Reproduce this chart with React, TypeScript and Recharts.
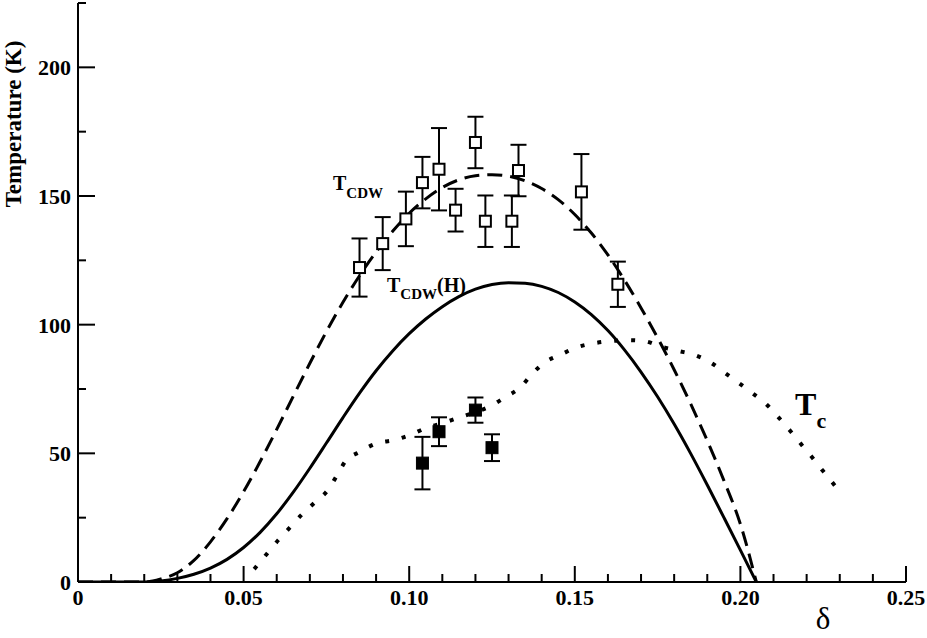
import React from 'react';
import { ComposedChart, Line, Scatter, ErrorBar, XAxis, YAxis, ReferenceDot } from 'recharts';

// tick positions
const xTicks = [0, 0.01, 0.02, 0.03, 0.04, 0.05, 0.06, 0.07, 0.08, 0.09, 0.1, 0.11, 0.12, 0.13, 0.14, 0.15, 0.16, 0.17, 0.18, 0.19, 0.2, 0.21, 0.22, 0.23, 0.24, 0.25];
const yTicks = [0, 25, 50, 75, 100, 125, 150, 175, 200, 225];

// T_CDW fit (dashed)
const cdwX = [0, 0.01, 0.02, 0.025, 0.03, 0.035, 0.04, 0.045, 0.05, 0.055, 0.06, 0.065, 0.07, 0.075, 0.08, 0.085, 0.09, 0.095, 0.1, 0.105, 0.11, 0.115, 0.12, 0.125, 0.13, 0.135, 0.14, 0.145, 0.15, 0.155, 0.16, 0.165, 0.17, 0.175, 0.18, 0.185, 0.19, 0.195, 0.2, 0.2048];
const cdwY = [0, 0, 0, 1.2, 3.6, 8.4, 15.6, 24.6, 35.1, 46.8, 59.3, 72.2, 85, 97.3, 108.7, 119, 128.2, 136.3, 143.3, 148.9, 153.3, 156.3, 157.9, 158.3, 157.7, 155.9, 152.9, 148.6, 142.8, 135.6, 127.1, 117.3, 106.5, 94.9, 82.5, 69.2, 54.9, 39.5, 22.5, 0];

// T_CDW(H) (solid)
const cdwHX = [0, 0.02, 0.025, 0.03, 0.035, 0.04, 0.045, 0.05, 0.055, 0.06, 0.065, 0.07, 0.075, 0.08, 0.085, 0.09, 0.095, 0.1, 0.105, 0.11, 0.115, 0.12, 0.125, 0.13, 0.135, 0.14, 0.145, 0.15, 0.155, 0.16, 0.165, 0.17, 0.175, 0.18, 0.185, 0.19, 0.195, 0.2, 0.2048];
const cdwHY = [0, 0, 0.4, 1.4, 3, 5.4, 8.8, 13.4, 19.3, 26.5, 34.9, 44.2, 54, 63.9, 73.4, 82.1, 89.8, 96.5, 102.2, 107, 110.9, 113.8, 115.6, 116.3, 116.1, 114.9, 112.5, 108.8, 103.9, 97.7, 90.2, 81.6, 72, 61.4, 49.9, 37.7, 25.1, 12.4, 0];

// Tc (dotted)
const tcX = [0.0532, 0.057, 0.0605, 0.064, 0.0675, 0.0714, 0.0753, 0.0781, 0.0808, 0.0851, 0.0902, 0.0952, 0.1002, 0.1048, 0.1098, 0.1148, 0.12, 0.1244, 0.1292, 0.1335, 0.137, 0.141, 0.1455, 0.1504, 0.1554, 0.1606, 0.1659, 0.171, 0.1762, 0.1813, 0.1863, 0.191, 0.1954, 0.1997, 0.2039, 0.2079, 0.2115, 0.215, 0.2183, 0.2217, 0.2249, 0.2285];
const tcY = [5, 10.9, 16.3, 21.2, 26.1, 30.8, 35.5, 41.2, 47, 50.6, 53.9, 55.1, 57.1, 59.7, 61.6, 63.8, 66, 68.3, 72, 75.6, 80.7, 85.4, 88.2, 91.1, 92.7, 93.6, 94, 93.6, 91.4, 89.8, 88.2, 85.3, 81.2, 77.2, 73.1, 69, 64, 58.8, 53.6, 48.4, 43.2, 37.5];

// measured points
const openX = [0.085, 0.092, 0.099, 0.104, 0.109, 0.114, 0.12, 0.123, 0.131, 0.133, 0.152, 0.163];
const openY = [122.2, 131.5, 141.1, 155.2, 160.4, 144.5, 170.8, 140.2, 140.2, 159.9, 151.6, 115.7];
const openErr = [11.3, 10.3, 10.6, 10, 16, 8.3, 10, 10, 10, 10, 14.7, 8.8];

const filledX = [0.104, 0.109, 0.12, 0.125];
const filledY = [46.2, 58.4, 66.8, 52.2];
const filledErr = [10.2, 5.6, 4.9, 5.2];

const zip = (xs: number[], ys: number[]) => xs.map((x, i) => ({ x, y: ys[i] }));
const zipErr = (xs: number[], ys: number[], es: number[]) => xs.map((x, i) => ({ x, y: ys[i], e: es[i] }));

const FONT = '"Liberation Serif", "Times New Roman", serif';

const isMajorX = (v: number) => Math.round(v * 100) % 5 === 0;
const isMajorY = (v: number) => v % 50 === 0;
const fmtX = (v: number) => (v === 0 ? '0' : v.toFixed(2));

const BottomTick = ({ x, y, payload }: any) => {
  const major = isMajorX(payload.value);
  return (
    <g>
      <line x1={x} x2={x} y1={y} y2={y - (major ? 16 : 8)} stroke="#000" strokeWidth={2} />
      {major && (
        <text x={x} y={y + 23} textAnchor="middle" fontFamily={FONT} fontWeight="bold" fontSize={22} fill="#000">
          {fmtX(payload.value)}
        </text>
      )}
    </g>
  );
};

const TopTick = ({ x, y, payload }: any) => {
  const major = isMajorX(payload.value);
  return <line x1={x} x2={x} y1={y} y2={y + (major ? 16 : 8)} stroke="#000" strokeWidth={2} />;
};

const LeftTick = ({ x, y, payload }: any) => {
  const major = isMajorY(payload.value);
  return (
    <g>
      <line x1={x} x2={x + (major ? 17 : 8)} y1={y} y2={y} stroke="#000" strokeWidth={2} />
      {major && (
        <text x={x - 7} y={y + 8} textAnchor="end" fontFamily={FONT} fontWeight="bold" fontSize={22} fill="#000">
          {payload.value}
        </text>
      )}
    </g>
  );
};

const RightTick = ({ x, y, payload }: any) => {
  if (payload.value === 0 || payload.value === 225) return null;
  return <line x1={x} x2={x - 17} y1={y} y2={y} stroke="#000" strokeWidth={2} />;
};

const OpenSquare = ({ cx, cy }: any) => (
  <rect x={cx - 5.5} y={cy - 5.5} width={11} height={11} fill="#fff" stroke="#000" strokeWidth={2} />
);

const FilledSquare = ({ cx, cy }: any) => (
  <rect x={cx - 6} y={cy - 6} width={12} height={12} fill="#000" stroke="#000" strokeWidth={1} />
);

const subLabel = (main: string, sub: string, tail: string, mainSize: number, subSize: number, dy: number) =>
  (props: any) => {
    const vb = props.viewBox || {};
    return (
      <text x={vb.x} y={vb.y} fontFamily={FONT} fontWeight="bold" fill="#000">
        <tspan fontSize={mainSize}>{main}</tspan>
        <tspan fontSize={subSize} dy={dy}>{sub}</tspan>
        {tail && <tspan fontSize={mainSize} dy={-dy}>{tail}</tspan>}
      </text>
    );
  };

const YTitle = () => (
  <text x={0} y={0} transform="translate(21,124) rotate(-90)" textAnchor="middle" fontFamily={FONT} fontWeight="bold" fontSize={23} fill="#000">
    Temperature (K)
  </text>
);

const XTitle = () => (
  <text x={823} y={629} textAnchor="middle" fontFamily={FONT} fontSize={31} fill="#000">
    δ
  </text>
);

export default function App() {
  return (
    <div style={{ position: 'absolute', left: 0, top: 0, background: '#fff' }}>
      <ComposedChart width={927} height={638} margin={{ top: 3, right: 21, left: 0, bottom: 0 }}>
        <XAxis
          xAxisId="b"
          dataKey="x"
          type="number"
          domain={[0, 0.25]}
          ticks={xTicks}
          interval={0}
          height={56}
          tickSize={0}
          tickMargin={0}
          tickLine={false}
          axisLine={{ stroke: '#000', strokeWidth: 2 }}
          tick={(p: any) => <BottomTick {...p} />}
          label={XTitle}
          allowDataOverflow
        />
        <XAxis
          xAxisId="t"
          dataKey="x"
          type="number"
          orientation="top"
          domain={[0, 0.25]}
          ticks={xTicks}
          interval={0}
          height={0}
          tickSize={0}
          tickMargin={0}
          tickLine={false}
          axisLine={{ stroke: '#000', strokeWidth: 2 }}
          tick={(p: any) => <TopTick {...p} />}
          allowDataOverflow
        />
        <YAxis
          yAxisId="l"
          type="number"
          domain={[0, 225]}
          ticks={yTicks}
          interval={0}
          width={78}
          tickSize={0}
          tickMargin={0}
          tickLine={false}
          axisLine={{ stroke: '#000', strokeWidth: 2 }}
          tick={(p: any) => <LeftTick {...p} />}
          label={YTitle}
          allowDataOverflow
        />
        <YAxis
          yAxisId="r"
          type="number"
          orientation="right"
          domain={[0, 225]}
          ticks={yTicks}
          interval={0}
          width={0}
          tickSize={0}
          tickMargin={0}
          tickLine={false}
          axisLine={{ stroke: '#000', strokeWidth: 2 }}
          tick={(p: any) => <RightTick {...p} />}
          allowDataOverflow
        />

        <Line
          xAxisId="b"
          yAxisId="l"
          data={zip(cdwX, cdwY)}
          dataKey="y"
          type="monotone"
          stroke="#000"
          strokeWidth={3}
          strokeDasharray="15 8"
          dot={false}
          activeDot={false}
          isAnimationActive={false}
        />
        <Line
          xAxisId="b"
          yAxisId="l"
          data={zip(cdwHX, cdwHY)}
          dataKey="y"
          type="monotone"
          stroke="#000"
          strokeWidth={3}
          dot={false}
          activeDot={false}
          isAnimationActive={false}
        />
        <Line
          xAxisId="b"
          yAxisId="l"
          data={zip(tcX, tcY)}
          dataKey="y"
          type="monotone"
          stroke="#000"
          strokeWidth={4}
          strokeDasharray="4 13"
          dot={false}
          activeDot={false}
          isAnimationActive={false}
        />

        <Scatter
          xAxisId="b"
          yAxisId="l"
          data={zipErr(openX, openY, openErr)}
          dataKey="y"
          shape={OpenSquare}
          isAnimationActive={false}
        >
          <ErrorBar dataKey="e" direction="y" width={8} stroke="#000" strokeWidth={2} isAnimationActive={false} />
        </Scatter>
        <Scatter
          xAxisId="b"
          yAxisId="l"
          data={zipErr(filledX, filledY, filledErr)}
          dataKey="y"
          shape={FilledSquare}
          isAnimationActive={false}
        >
          <ErrorBar dataKey="e" direction="y" width={8} stroke="#000" strokeWidth={2} isAnimationActive={false} />
        </Scatter>

        <ReferenceDot xAxisId="b" yAxisId="l" x={0.077} y={152.2} r={0} stroke="none" label={subLabel('T', 'CDW', '', 20, 15, 8)} />
        <ReferenceDot xAxisId="b" yAxisId="l" x={0.0933} y={112.6} r={0} stroke="none" label={subLabel('T', 'CDW', '(H)', 20, 15, 7)} />
        <ReferenceDot xAxisId="b" yAxisId="l" x={0.2165} y={64.9} r={0} stroke="none" label={subLabel('T', 'c', '', 32, 22, 13)} />
      </ComposedChart>
    </div>
  );
}
